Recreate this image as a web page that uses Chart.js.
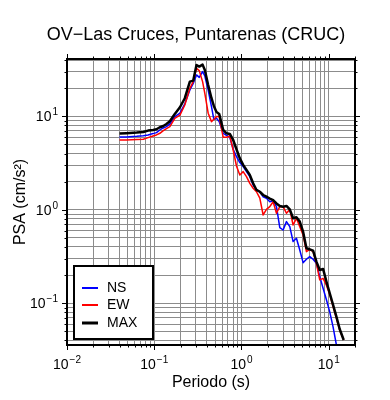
<!DOCTYPE html>
<html lang="es">

<head>
    <meta charset="UTF-8">
    <title>OV-Las Cruces, Puntarenas (CRUC)</title>

    <!-- Chart.js -->
    <script src="https://cdn.jsdelivr.net/npm/chart.js"></script>

    <style>
        html,
        body {
            margin: 0;
            padding: 0;
            background: #fff;
        }

        .chart-container {
            position: relative;
            width: 390px;
            height: 400px;
        }
    </style>
</head>

<body>
    <div class="chart-container">
        <canvas id="graficoPSA"></canvas>
    </div>

    <script type="text/javascript">
        // Periodos (s)
        var periodos = [0.040, 0.048, 0.063, 0.075, 0.085, 0.097, 0.106, 0.116, 0.127, 0.138,
            0.151, 0.172, 0.197, 0.224, 0.256, 0.280, 0.305, 0.328, 0.358, 0.380,
            0.415, 0.453, 0.482, 0.517, 0.555, 0.617, 0.673, 0.735, 0.803, 0.876,
            0.957, 1.045, 1.141, 1.246, 1.360, 1.485, 1.622, 1.771, 1.933, 2.111,
            2.305, 2.517, 2.748, 3.000, 3.276, 3.577, 3.905, 4.264, 4.656, 5.083,
            5.550, 6.060, 6.616, 7.224, 7.887, 8.612, 9.404, 10.27, 11.21, 12.24,
            13.37, 14.85];

        // PSA (cm/s2) por componente
        var psaNS = [6.01, 6.01, 6.11, 6.21, 6.32, 6.53, 6.69, 7.14, 7.50, 7.75,
            8.28, 9.92, 10.8, 13.6, 19.1, 22.5, 27.7, 26.1, 30.1, 27.0,
            19.1, 12.7, 9.29, 9.52, 8.77, 6.58, 6.26, 5.96, 4.44, 3.70,
            3.20, 2.90, 2.56, 2.26, 1.84, 1.63, 1.56, 1.38, 1.33, 1.22,
            1.25, 1.08, 0.645, 0.608, 0.747, 0.661, 0.457, 0.496, 0.372, 0.272,
            0.296, 0.316, 0.296, 0.268, 0.193, 0.145, 0.109, 0.081, 0.056, 0.036,
            0.025, 0.016];

        var psaEW = [5.58, 5.58, 5.63, 5.68, 5.91, 6.16, 6.32, 6.58, 7.03, 7.38,
            7.75, 9.52, 10.3, 13.2, 19.9, 23.5, 32.6, 30.8, 23.5, 17.6,
            10.8, 8.77, 9.29, 9.92, 9.92, 5.96, 5.96, 6.16, 4.36, 2.94,
            2.36, 2.56, 2.26, 1.92, 1.70, 1.56, 1.33, 0.880, 1.01, 1.08,
            1.22, 0.918, 1.08, 1.08, 0.918, 1.01, 0.688, 0.811, 0.661, 0.538,
            0.357, 0.378, 0.357, 0.268, 0.178, 0.185, 0.156, 0.124, 0.092, 0.069,
            0.0513, 0.0405];

        var psaMAX = [6.53, 6.58, 6.69, 6.80, 7.03, 7.14, 7.26, 7.63, 7.88, 8.28,
            8.84, 10.6, 12.5, 15.6, 23.5, 24.1, 35.4, 34.0, 35.7, 31.3,
            21.6, 15.6, 12.9, 11.1, 10.6, 7.14, 6.58, 6.47, 5.58, 4.44,
            3.55, 3.02, 2.67, 2.36, 1.92, 1.63, 1.56, 1.44, 1.38, 1.32,
            1.27, 1.17, 1.10, 1.08, 1.10, 1.01, 0.811, 0.831, 0.747, 0.584,
            0.388, 0.378, 0.366, 0.279, 0.227, 0.233, 0.171, 0.128, 0.096, 0.072,
            0.0527, 0.0405];

        // Decadas con etiqueta
        var decadasX = [-2, -1, 0, 1];
        var decadasY = [-1, 0, 1];

        var fuente = '"Liberation Sans", Arial, Helvetica, sans-serif';

        function puntos(valores) {
            return periodos.map(function (t, i) {
                return { x: t, y: valores[i] };
            });
        }

        // Marcas 1..9 x 10^n dentro del rango del eje
        function marcasLog(scale) {
            var lista = [];
            var e0 = Math.floor(Math.log10(scale.min));
            var e1 = Math.ceil(Math.log10(scale.max));
            for (var e = e0; e <= e1; e++) {
                for (var k = 1; k <= 9; k++) {
                    var v = k * Math.pow(10, e);
                    if (v >= scale.min * 0.9999 && v <= scale.max * 1.0001) {
                        lista.push({ value: v, major: k === 1 });
                    }
                }
            }
            scale.ticks = lista;
        }

        function potencia(ctx, exp, x, y, alinear) {
            var base = '10';
            var sup = exp < 0 ? '\u2212' + Math.abs(exp) : String(exp);
            ctx.font = '14px ' + fuente;
            var wb = ctx.measureText(base).width;
            ctx.font = '10px ' + fuente;
            var ws = ctx.measureText(sup).width;
            var total = wb + 1 + ws;
            var x0 = alinear === 'center' ? x - total / 2 : x - total;
            ctx.textAlign = 'left';
            ctx.textBaseline = 'alphabetic';
            ctx.font = '14px ' + fuente;
            ctx.fillText(base, x0, y);
            ctx.font = '10px ' + fuente;
            ctx.fillText(sup, x0 + wb + 1, y - 6);
        }

        // Marco, marcas externas, textos y leyenda
        var marco = {
            id: 'marco',
            afterDraw: function (chart) {
                var ctx = chart.ctx;
                var a = chart.chartArea;
                var sx = chart.scales.x;
                var sy = chart.scales.y;
                ctx.save();
                ctx.strokeStyle = '#000';

                ctx.lineWidth = 1;
                ctx.beginPath();
                sx.ticks.forEach(function (t) {
                    var px = Math.round(sx.getPixelForValue(t.value)) + 0.5;
                    var l = t.major ? 5 : 2.5;
                    ctx.moveTo(px, a.bottom); ctx.lineTo(px, a.bottom + l);
                    ctx.moveTo(px, a.top); ctx.lineTo(px, a.top - l);
                });
                sy.ticks.forEach(function (t) {
                    var py = Math.round(sy.getPixelForValue(t.value)) + 0.5;
                    var l = t.major ? 5 : 2.5;
                    ctx.moveTo(a.left, py); ctx.lineTo(a.left - l, py);
                    ctx.moveTo(a.right, py); ctx.lineTo(a.right + l, py);
                });
                ctx.stroke();

                ctx.lineWidth = 2;
                ctx.strokeRect(a.left, a.top, a.right - a.left, a.bottom - a.top);

                ctx.fillStyle = '#000';
                decadasX.forEach(function (e) {
                    potencia(ctx, e, sx.getPixelForValue(Math.pow(10, e)), a.bottom + 24, 'center');
                });
                decadasY.forEach(function (e) {
                    potencia(ctx, e, a.left - 9, sy.getPixelForValue(Math.pow(10, e)) + 5, 'right');
                });

                ctx.textAlign = 'center';
                ctx.textBaseline = 'alphabetic';
                ctx.font = '16px ' + fuente;
                ctx.fillText('Periodo (s)', (a.left + a.right) / 2, 387);

                ctx.save();
                ctx.translate(25, (a.top + a.bottom) / 2);
                ctx.rotate(-Math.PI / 2);
                ctx.fillText('PSA (cm/s\u00B2)', 0, 0);
                ctx.restore();

                ctx.font = '18px ' + fuente;
                ctx.fillText('OV\u2212Las Cruces, Puntarenas (CRUC)', 196, 40);

                // Leyenda
                ctx.fillStyle = '#fff';
                ctx.fillRect(74, 266, 79, 73);
                ctx.lineWidth = 2;
                ctx.strokeRect(74, 266, 79, 73);
                var filas = [288, 305, 323];
                chart.data.datasets.forEach(function (ds, i) {
                    ctx.strokeStyle = ds.borderColor;
                    ctx.lineWidth = i === 2 ? 3 : 2;
                    ctx.beginPath();
                    ctx.moveTo(82, filas[i]);
                    ctx.lineTo(98, filas[i]);
                    ctx.stroke();
                    ctx.fillStyle = '#000';
                    ctx.font = '14px ' + fuente;
                    ctx.textAlign = 'left';
                    ctx.textBaseline = 'middle';
                    ctx.fillText(ds.label, 107, filas[i]);
                });
                ctx.restore();
            }
        };

        var ctx = document.getElementById('graficoPSA').getContext('2d');
        var graficoPSA = new Chart(ctx, {
            type: 'line',
            data: {
                datasets: [{
                    label: 'NS',
                    data: puntos(psaNS),
                    borderColor: '#0000ff',
                    borderWidth: 1.5,
                    order: 2
                }, {
                    label: 'EW',
                    data: puntos(psaEW),
                    borderColor: '#ff0000',
                    borderWidth: 1.5,
                    order: 1
                }, {
                    label: 'MAX',
                    data: puntos(psaMAX),
                    borderColor: '#000000',
                    borderWidth: 2.5,
                    order: 0
                }]
            },
            options: {
                responsive: true,
                maintainAspectRatio: false,
                devicePixelRatio: 1,
                animation: false,
                layout: {
                    padding: { top: 59, right: 35, left: 0, bottom: 0 }
                },
                elements: {
                    point: { radius: 0 },
                    line: { tension: 0, borderJoinStyle: 'round' }
                },
                plugins: {
                    legend: { display: false },
                    title: { display: false },
                    tooltip: { enabled: false }
                },
                scales: {
                    x: {
                        type: 'logarithmic',
                        min: 0.01,
                        max: 20,
                        afterBuildTicks: marcasLog,
                        afterFit: function (s) { s.height = 55; },
                        ticks: { display: false },
                        border: { display: false },
                        grid: { color: '#8c8c8c', lineWidth: 1, drawTicks: false }
                    },
                    y: {
                        type: 'logarithmic',
                        min: 0.0358,
                        max: 41,
                        afterBuildTicks: marcasLog,
                        afterFit: function (s) { s.width = 67; },
                        ticks: { display: false },
                        border: { display: false },
                        grid: { color: '#8c8c8c', lineWidth: 1, drawTicks: false }
                    }
                }
            },
            plugins: [marco]
        });
    </script>

</body>

</html>
